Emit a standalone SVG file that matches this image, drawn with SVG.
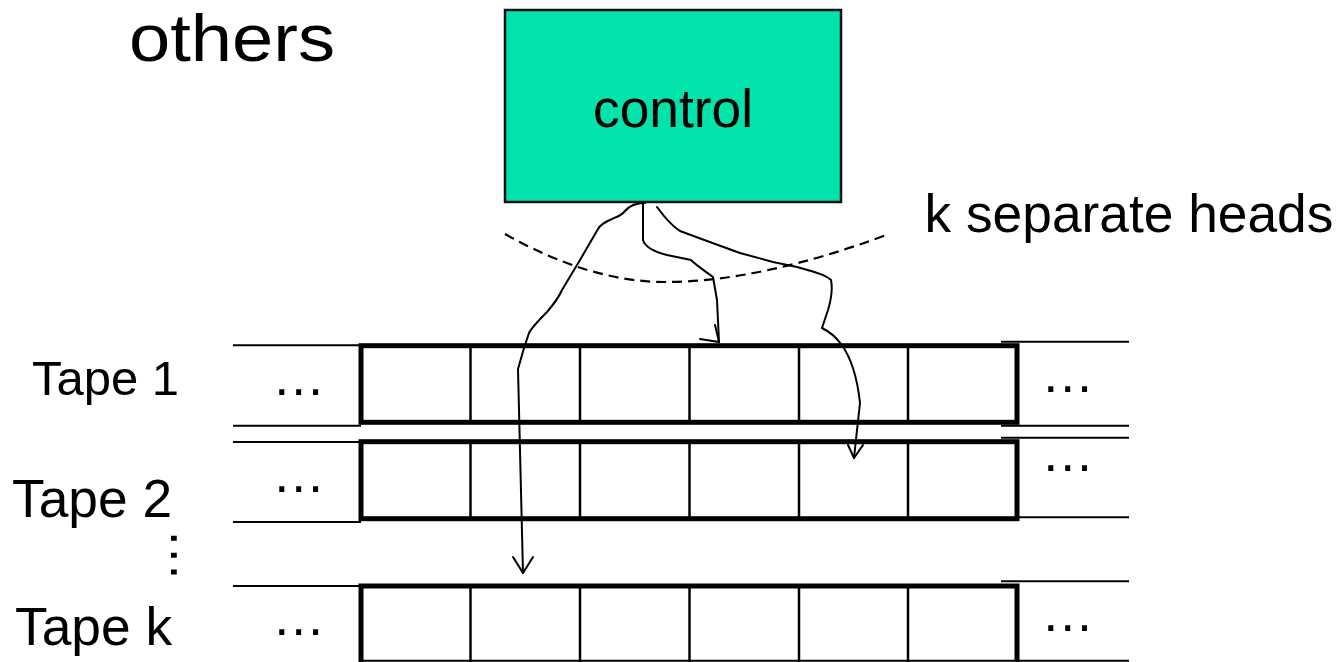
<svg xmlns="http://www.w3.org/2000/svg" width="1339" height="662" viewBox="0 0 1339 662">
<style>
  .t { font-family: "Liberation Sans", Arial, sans-serif; fill: #000; }
  .tape { fill: #fff; stroke: #000; stroke-width: 5; }
  .cell { stroke: #000; stroke-width: 2.5; }
  .thin { stroke: #000; stroke-width: 2; }
  .head { fill: none; stroke: #000; stroke-width: 2; stroke-linejoin: round; stroke-linecap: round; }
</style>
<rect width="1339" height="662" fill="#fff"/>

<text class="t" x="129" y="61" font-size="66" textLength="206" lengthAdjust="spacingAndGlyphs">others</text>

<g id="control">
  <rect x="505" y="10" width="336" height="192" fill="#00E3AA" stroke="#111" stroke-width="2.5"/>
  <text class="t" x="673" y="126.5" font-size="53.3" text-anchor="middle">control</text>
</g>

<g id="heads-boundary">
  <path d="M505,234 Q590,282 665,282 Q760,282 889,234" fill="none" stroke="#000" stroke-width="2.2" stroke-dasharray="10,6"/>
  <text class="t" x="924.5" y="231.5" font-size="53.3">k separate heads</text>
</g>

<g id="tape1">
  <text class="t" x="32" y="395" font-size="49">Tape 1</text>
  <line class="thin" x1="233" y1="345.3" x2="361" y2="345.3"/>
  <line class="thin" x1="233" y1="425.7" x2="361" y2="425.7"/>
  <line class="thin" x1="1001" y1="341.7" x2="1129" y2="341.7"/>
  <line class="thin" x1="1001" y1="425.7" x2="1129" y2="425.7"/>
  <rect class="tape" x="361" y="345.7" width="656" height="76.6"/>
  <line class="cell" x1="470.5" y1="345.7" x2="470.5" y2="422.3"/>
  <line class="cell" x1="580" y1="345.7" x2="580" y2="422.3"/>
  <line class="cell" x1="689.5" y1="345.7" x2="689.5" y2="422.3"/>
  <line class="cell" x1="799" y1="345.7" x2="799" y2="422.3"/>
  <line class="cell" x1="908" y1="345.7" x2="908" y2="422.3"/>
  <text class="t" x="272" y="395.4" font-size="53.3">…</text>
  <text class="t" x="1041" y="391.7" font-size="53.3">…</text>
</g>

<g id="tape2">
  <text class="t" x="12" y="516.7" font-size="53.3">Tape 2</text>
  <line class="thin" x1="233" y1="442" x2="361" y2="442"/>
  <line class="thin" x1="233" y1="522" x2="361" y2="522"/>
  <line class="thin" x1="1001" y1="437.7" x2="1129" y2="437.7"/>
  <line class="thin" x1="1019" y1="517.3" x2="1129" y2="517.3"/>
  <rect class="tape" x="361" y="441.7" width="656" height="77"/>
  <line class="cell" x1="470.5" y1="441.7" x2="470.5" y2="518.7"/>
  <line class="cell" x1="580" y1="441.7" x2="580" y2="518.7"/>
  <line class="cell" x1="689.5" y1="441.7" x2="689.5" y2="518.7"/>
  <line class="cell" x1="799" y1="441.7" x2="799" y2="518.7"/>
  <line class="cell" x1="908" y1="441.7" x2="908" y2="518.7"/>
  <text class="t" x="272" y="491.7" font-size="53.3">…</text>
  <text class="t" x="1041" y="471.4" font-size="53.3">…</text>
</g>

<text class="t" font-size="53.3" transform="translate(171.3,528.6) rotate(90)">…</text>

<g id="tapek">
  <text class="t" x="15" y="645" font-size="53.3">Tape k</text>
  <line class="thin" x1="233" y1="586" x2="361" y2="586"/>
  <line class="thin" x1="1001" y1="581.3" x2="1129" y2="581.3"/>
  <line class="thin" x1="1019" y1="660.7" x2="1129" y2="660.7"/>
  <rect class="tape" x="361" y="586" width="656" height="82"/>
  <line class="thin" x1="361" y1="660.7" x2="1017" y2="660.7"/>
  <line class="cell" x1="470.5" y1="586" x2="470.5" y2="662"/>
  <line class="cell" x1="580" y1="586" x2="580" y2="662"/>
  <line class="cell" x1="689.5" y1="586" x2="689.5" y2="662"/>
  <line class="cell" x1="799" y1="586" x2="799" y2="662"/>
  <line class="cell" x1="908" y1="586" x2="908" y2="662"/>
  <text class="t" x="272" y="635" font-size="53.3">…</text>
  <text class="t" x="1041" y="631" font-size="53.3">…</text>
</g>

<g id="connectors">
  <path class="head" d="M645,203 C637,203 630,205 625,211 C621,216 616,217 612,219 C605,222 600,225 598,229 L580,260 L562,290 C559,297 553,305 547,312 C538,321 532,327 529,333 L524,348 L518,369 L523,573"/>
  <path class="head" d="M513,557 L523,573 L533,557"/>
  <path class="head" d="M643,203 L643,240 C645,247 655,252 667,255 L691,260 C695,264 699,267 713,277 L717,300 L719,342"/>
  <path class="head" d="M715,325 L719,342 L700,339"/>
  <path class="head" d="M657,207 C665,218 672,226 680,231 L707,241 L740,253 L773,262 L797,267 C815,272 826,275 831,280 C833,290 831,300 828,310 L822,328 C830,332 836,337 841,344 C850,356 857,375 860,403 L857,430 L854,458"/>
  <path class="head" d="M848,445 L854,458 L863,445"/>
</g>
</svg>
